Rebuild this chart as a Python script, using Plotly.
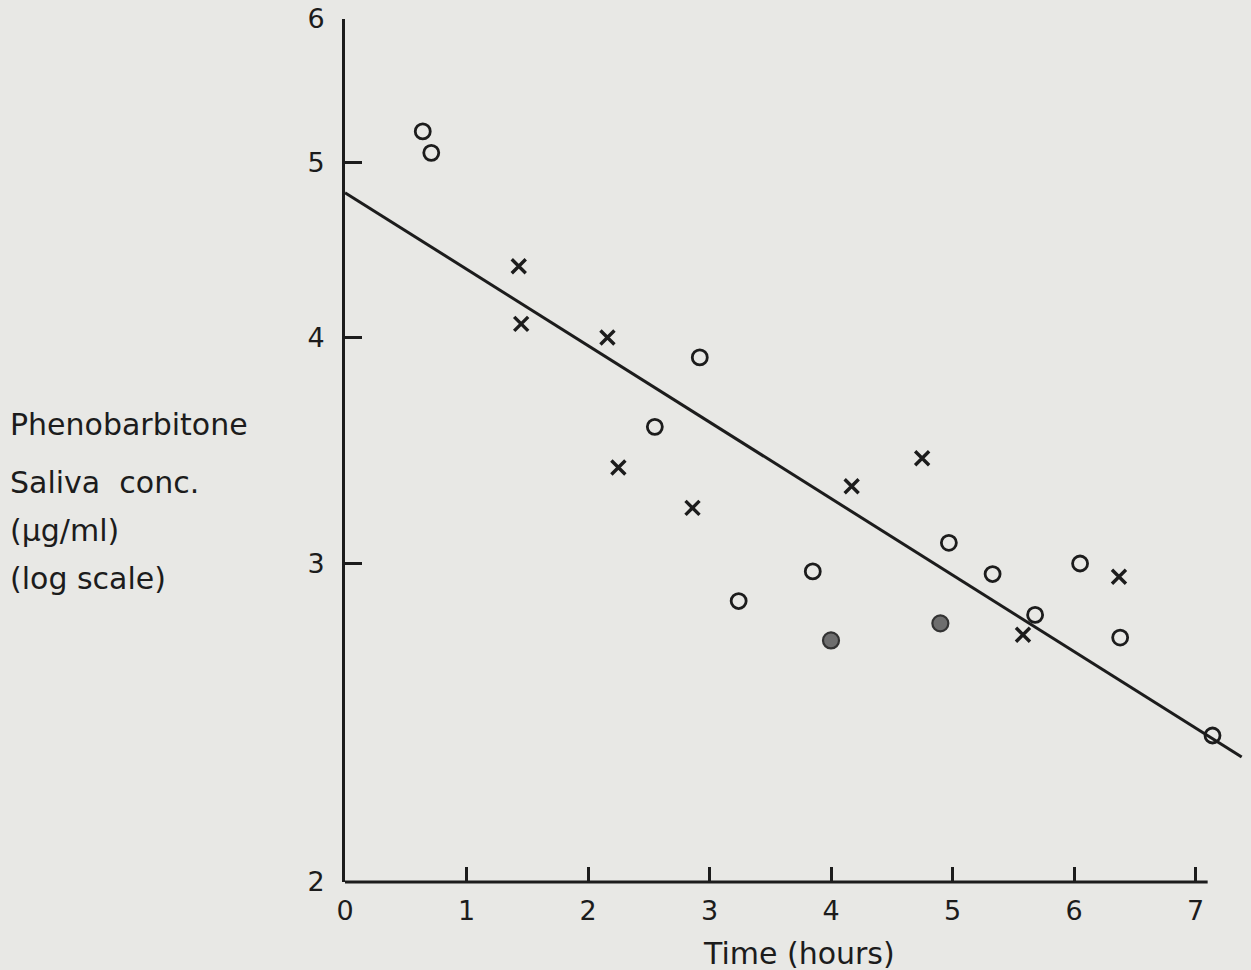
import plotly.graph_objects as go

# Open circles
open_time = [0.64, 0.71, 2.92, 2.55, 3.24, 3.85, 4.97, 5.33, 6.05, 5.68, 6.38, 7.14]
open_conc = [5.20, 5.06, 3.90, 3.57, 2.86, 2.97, 3.08, 2.96, 3.00, 2.81, 2.73, 2.41]
# Crosses
cross_time = [1.43, 1.45, 2.16, 2.25, 2.86, 4.17, 4.75, 6.37, 5.58]
cross_conc = [4.38, 4.07, 4.00, 3.39, 3.22, 3.31, 3.43, 2.95, 2.74]
# Filled circles
filled_time = [4.00, 4.90]
filled_conc = [2.72, 2.78]
# Fitted line
fit_time = [0.0, 7.38]
fit_conc = [4.81, 2.345]

x_ticks = [0, 1, 2, 3, 4, 5, 6, 7]
x_labels = ["0", "1", "2", "3", "4", "5", "6", "7"]
y_ticks = [2, 3, 4, 5, 6]
y_labels = ["2", "3", "4", "5", "6"]

ink = "#1c1c1c"
paper = "#e8e8e5"
font = "DejaVu Sans"

fig = go.Figure()
fig.add_trace(go.Scatter(x=fit_time, y=fit_conc, mode="lines",
                         line=dict(color=ink, width=3), cliponaxis=False,
                         showlegend=False, hoverinfo="skip"))
fig.add_trace(go.Scatter(x=open_time, y=open_conc, mode="markers",
                         marker=dict(symbol="circle-open", size=15, color=ink,
                                     line=dict(width=2.8, color=ink)),
                         cliponaxis=False, showlegend=False))
fig.add_trace(go.Scatter(x=cross_time, y=cross_conc, mode="markers",
                         marker=dict(symbol="x-thin-open", size=14, color=ink,
                                     line=dict(width=3.4, color=ink)),
                         cliponaxis=False, showlegend=False))
fig.add_trace(go.Scatter(x=filled_time, y=filled_conc, mode="markers",
                         marker=dict(symbol="circle", size=16, color="#6e6e6e",
                                     line=dict(width=2.2, color="#333333")),
                         cliponaxis=False, showlegend=False))

L, R, T, B = 345, 8, 19, 88
W, H = 1251, 970
pw = W - L - R

fig.update_layout(
    width=W, height=H,
    margin=dict(l=L, r=R, t=T, b=B, autoexpand=False),
    paper_bgcolor=paper, plot_bgcolor=paper,
    font=dict(family=font, color=ink, size=27),
    showlegend=False,
)
fig.update_xaxes(range=[0, pw / 121.5], tickvals=x_ticks, ticktext=x_labels,
                 ticks="inside", ticklen=15, tickwidth=2.5, tickcolor=ink,
                 showline=False, showgrid=False, zeroline=False,
                 ticklabelstandoff=10, tickfont=dict(size=27, family=font, color=ink))
fig.update_yaxes(type="log", range=[0.30103, 0.77815], tickvals=y_ticks, ticktext=y_labels,
                 ticks="inside", ticklen=17, tickwidth=2.5, tickcolor=ink,
                 showline=True, linecolor=ink, linewidth=3,
                 showgrid=False, zeroline=False,
                 ticklabelstandoff=12, tickfont=dict(size=27, family=font, color=ink))

# x-axis line (ends a little beyond 7)
fig.add_shape(type="line", xref="x", yref="paper", x0=0, x1=7.1, y0=0, y1=0,
              line=dict(color=ink, width=3))

def px2paper_x(px):
    return (px - L) / pw

def px2paper_y(py):
    return (H - B - py) / (H - T - B)

ylines = ["Phenobarbitone", "Saliva  conc.", "(\u03bcg/ml)", "(log scale)"]
ypos = [425, 482, 530, 578]
for txt, py in zip(ylines, ypos):
    fig.add_annotation(text=txt, xref="paper", yref="paper",
                       x=px2paper_x(8), y=px2paper_y(py), xanchor="left", yanchor="middle",
                       showarrow=False, font=dict(size=30, family=font, color=ink))

fig.add_annotation(text="Time (hours)", xref="paper", yref="paper",
                   x=px2paper_x(799), y=px2paper_y(953), xanchor="center", yanchor="middle",
                   showarrow=False, font=dict(size=30, family=font, color=ink))

fig.write_html("out.html")
